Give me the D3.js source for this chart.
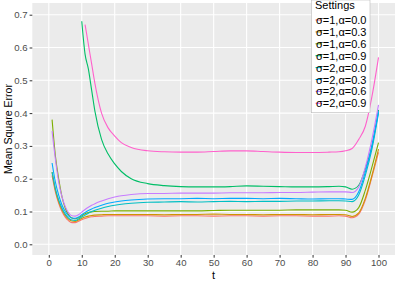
<!DOCTYPE html>
<html><head><meta charset="utf-8">
<script src="https://cdn.jsdelivr.net/npm/d3@7"></script>
<style>body{margin:0;background:#fff}svg{display:block;font-family:"Liberation Sans",Arial,sans-serif}</style>
</head><body><svg id="c" width="399" height="284"></svg>
<script>
const tValues = [1,2,3,4,5,6,7,8,9,10,11,12,13,14,16,18,20,22,25,30,35,40,45,50,55,60,65,70,75,80,85,88,90,92,94,96,98,100];
const settings = ["σ=1,α=0.0","σ=1,α=0.3","σ=1,α=0.6","σ=1,α=0.9","σ=2,α=0.0","σ=2,α=0.3","σ=2,α=0.6","σ=2,α=0.9"];
const colors = ["#F8766D","#CD9600","#7CAE00","#00BE67","#00BFC4","#00A9FF","#C77CFF","#FF61CC"];
const s1a00 = [0.210,0.160,0.125,0.100,0.083,0.072,0.066,0.066,0.070,0.075,0.079,0.082,0.084,0.085,0.086,0.087,0.087,0.087,0.087,0.087,0.086,0.087,0.087,0.086,0.087,0.087,0.086,0.087,0.087,0.086,0.086,0.087,0.086,0.081,0.092,0.135,0.205,0.280];
const s1a03 = [0.220,0.165,0.130,0.105,0.088,0.077,0.071,0.070,0.074,0.079,0.083,0.086,0.088,0.089,0.090,0.091,0.091,0.091,0.091,0.091,0.090,0.091,0.091,0.092,0.091,0.091,0.090,0.091,0.091,0.090,0.091,0.091,0.090,0.085,0.096,0.140,0.210,0.290];
const s1a06 = [0.380,0.270,0.200,0.145,0.110,0.090,0.080,0.078,0.081,0.087,0.093,0.097,0.099,0.100,0.101,0.101,0.102,0.102,0.102,0.102,0.102,0.102,0.102,0.103,0.104,0.104,0.104,0.104,0.105,0.105,0.105,0.105,0.104,0.098,0.112,0.165,0.235,0.310];
const s1a09 = [null,null,null,null,null,null,null,null,null,0.680,0.580,0.535,0.470,0.405,0.320,0.275,0.245,0.222,0.200,0.185,0.179,0.176,0.175,0.175,0.176,0.178,0.177,0.176,0.175,0.175,0.176,0.177,0.175,0.168,0.180,0.230,0.300,0.410];
const s2a00 = [0.220,0.170,0.135,0.110,0.092,0.080,0.074,0.073,0.077,0.083,0.089,0.095,0.100,0.104,0.110,0.115,0.119,0.122,0.125,0.128,0.129,0.130,0.129,0.130,0.131,0.130,0.131,0.131,0.132,0.132,0.133,0.133,0.132,0.130,0.150,0.210,0.290,0.400];
const s2a03 = [0.248,0.190,0.150,0.120,0.100,0.087,0.080,0.079,0.083,0.090,0.097,0.103,0.108,0.112,0.119,0.125,0.129,0.132,0.135,0.138,0.139,0.139,0.140,0.139,0.140,0.140,0.139,0.140,0.139,0.138,0.139,0.139,0.138,0.137,0.160,0.220,0.300,0.405];
const s2a06 = [0.345,0.260,0.190,0.145,0.115,0.096,0.087,0.086,0.090,0.098,0.106,0.113,0.119,0.124,0.132,0.139,0.144,0.148,0.152,0.155,0.155,0.156,0.156,0.156,0.157,0.157,0.157,0.158,0.158,0.159,0.160,0.160,0.160,0.158,0.175,0.235,0.320,0.425];
const s2a09 = [null,null,null,null,null,null,null,null,null,null,0.670,0.610,0.550,0.490,0.400,0.355,0.330,0.310,0.295,0.285,0.282,0.281,0.281,0.283,0.285,0.285,0.283,0.281,0.280,0.280,0.281,0.282,0.285,0.292,0.320,0.360,0.450,0.570];
const seriesValues = [s1a00,s1a03,s1a06,s1a09,s2a00,s2a03,s2a06,s2a09];
const xTicks = [0,10,20,30,40,50,60,70,80,90,100];
const yTicks = [0.0,0.1,0.2,0.3,0.4,0.5,0.6,0.7];

const svg = d3.select("#c");
const P = {l:32.3, r:395, t:3, b:255};
const x = d3.scaleLinear().domain([-5,105]).range([P.l,P.r]);
const y = d3.scaleLinear().domain([-0.0326,0.7357]).range([P.b,P.t]);

svg.append("rect").attr("x",P.l).attr("y",P.t).attr("width",P.r-P.l).attr("height",P.b-P.t).attr("fill","#EBEBEB");
const g = svg.append("g");
g.selectAll("line.gx").data(xTicks).join("line").attr("x1",d=>x(d)).attr("x2",d=>x(d)).attr("y1",P.t).attr("y2",P.b).attr("stroke","#fff").attr("stroke-width",1.1);
g.selectAll("line.gy").data(yTicks).join("line").attr("y1",d=>y(d)).attr("y2",d=>y(d)).attr("x1",P.l).attr("x2",P.r).attr("stroke","#fff").attr("stroke-width",1.1);

const xAxis = svg.append("g").attr("transform",`translate(0,${P.b})`).call(d3.axisBottom(x).tickValues(xTicks).tickSize(2.7).tickPadding(1.5).tickFormat(d3.format("d")));
const yAxis = svg.append("g").attr("transform",`translate(${P.l},0)`).call(d3.axisLeft(y).tickValues(yTicks).tickSize(2.7).tickPadding(2).tickFormat(d3.format(".1f")));
[xAxis,yAxis].forEach(a=>{a.select(".domain").remove();a.selectAll("line").attr("stroke","#333");a.selectAll("text").attr("fill","#4D4D4D").attr("font-size","9.6px").attr("font-family","Liberation Sans, Arial, sans-serif");});

const line = d3.line().defined(d=>d[1]!=null).x(d=>x(d[0])).y(d=>y(d[1])).curve(d3.curveMonotoneX);
seriesValues.forEach((vals,i)=>{
  svg.append("path").datum(tValues.map((t,j)=>[t,vals[j]])).attr("d",line).attr("fill","none").attr("stroke",colors[i]).attr("stroke-width",1.1);
});

svg.append("text").attr("x",(P.l+P.r)/2).attr("y",278.5).attr("text-anchor","middle").attr("font-size","11px").attr("fill","#000").text("t");
svg.append("text").attr("transform",`translate(12,${(P.t+P.b)/2}) rotate(-90)`).attr("text-anchor","middle").attr("font-size","10.6px").attr("fill","#000").text("Mean Square Error");

const L = svg.append("g");
L.append("rect").attr("x",311.5).attr("y",0).attr("width",58.5).attr("height",112.7).attr("fill","#fff").attr("stroke","#bbb").attr("stroke-width",0.6);
L.append("text").attr("x",315).attr("y",9).attr("font-size","11px").attr("fill","#000").text("Settings");
settings.forEach((s,i)=>{
  const cy = 20 + i*11.9;
  L.append("line").attr("x1",315.5).attr("x2",322).attr("y1",cy).attr("y2",cy).attr("stroke",colors[i]).attr("stroke-width",1.1);
  L.append("text").attr("x",316).attr("y",cy+4).attr("font-size","11px").attr("fill","#000").text(s);
});
</script></body></html>
